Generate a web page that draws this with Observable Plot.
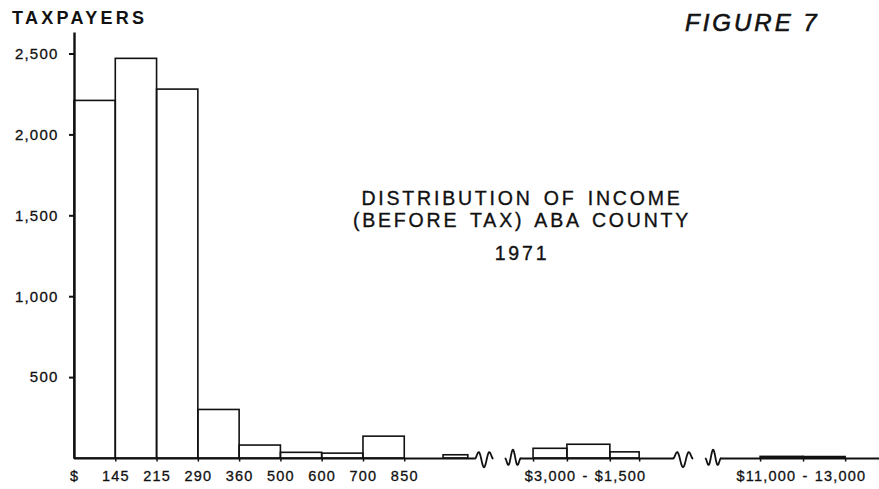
<!DOCTYPE html>
<html>
<head>
<meta charset="utf-8">
<script src="https://cdn.jsdelivr.net/npm/d3@7"></script>
<script src="https://cdn.jsdelivr.net/npm/@observablehq/plot@0.6"></script>
<style>
  html, body { margin: 0; padding: 0; background: #fff; }
  #wrap { position: relative; width: 879px; height: 489px; overflow: hidden; font-family: "Liberation Sans", Arial, Helvetica, sans-serif; color: #111; }
  #wrap svg { position: absolute; left: 0; top: 0; }
  #wrap svg text { letter-spacing: 1.2px; word-spacing: 1px; stroke: #111; stroke-width: 0.3px; }
  .lbl { position: absolute; white-space: nowrap; line-height: 1; -webkit-text-stroke: 0.35px #111; }
  #ytitle { left: 12px; top: 9px; font-size: 18px; font-weight: bold; letter-spacing: 3.3px; -webkit-text-stroke: 0; }
  #fig { left: 685px; top: 11px; font-size: 24px; font-style: italic; letter-spacing: 3px; -webkit-text-stroke: 0.6px #111; }
  .title { left: 522px; transform: translateX(-50%); font-size: 19.5px; letter-spacing: 2.8px; word-spacing: 3px; }
</style>
</head>
<body>
<div id="wrap">
  <div class="lbl" id="ytitle">TAXPAYERS</div>
  <div class="lbl" id="fig">FIGURE 7</div>
  <div class="lbl title" style="top:189px">DISTRIBUTION OF INCOME</div>
  <div class="lbl title" style="top:211px">(BEFORE TAX) ABA COUNTY</div>
  <div class="lbl title" style="top:244px">1971</div>
</div>
<script>
// Income brackets (position along the broken x axis, in bracket slots) and taxpayer counts
const bracketName = ["$0-145","145-215","215-290","290-360","360-500","500-600","600-700","700-850",
                     "850-1,000","$1,000-a","$1,000-b","$1,000-c","$11,000-a","$11,000-b"];
const slotStart  = [0, 1, 2, 3, 4, 5, 6, 7, 8.94, 11.12, 11.94, 12.98, 16.62, 17.66];
const slotEnd    = [1, 2, 3, 4, 5, 6, 7, 8, 9.54, 11.94, 12.98, 13.69, 17.66, 18.68];
const taxpayers  = [2210, 2470, 2280, 300, 80, 35, 30, 135, 20, 60, 85, 38, 10, 9];

// x tick labels
const xTickLabels = ["$", "145", "215", "290", "360", "500", "600", "700", "850", "$3,000 - $1,500", "$11,000 - 13,000"];
const xTickSlots  = [0, 1, 2, 3, 4, 5, 6, 7, 8, 12.38, 17.61];
const edgeTicks   = [1, 2, 3, 4, 5, 6, 7, 8, 11.12, 11.94, 12.98, 13.69, 16.62, 17.66, 18.68];

// y ticks
const yTicks = [500, 1000, 1500, 2000, 2500];

// axis breaks (start, end) and continuous axis segments
const breakStart = [9.71, 10.44, 14.51, 15.29];
const breakEnd   = [10.13, 10.80, 14.97, 15.65];
const segStart = [0, 10.80, 15.65];
const segEnd   = [9.71, 14.51, 19.5];

const bars = bracketName.map((name, i) => ({name, x1: slotStart[i], x2: slotEnd[i], y: taxpayers[i]}));
const segs = segStart.map((s, i) => ({x1: s, x2: segEnd[i]}));
const ticksX = xTickLabels.map((t, i) => ({t, x: xTickSlots[i]}));

// squiggle (axis break) glyphs
const squig = [];
breakStart.forEach((a, k) => {
  const b = breakEnd[k];
  const n = 30;
  for (let j = 0; j <= n; j++) {
    const t = j / n;
    const env = Math.pow(Math.sin(Math.PI * t), 0.5);
    squig.push({k, x: a + (b - a) * t, y: 55 * env * Math.sin(3 * Math.PI * t + (k % 2 ? Math.PI : 0))});
  }
});

const chart = Plot.plot({
  width: 879,
  height: 489,
  marginLeft: 74,
  marginRight: 0,
  marginTop: 53.5,
  marginBottom: 31,
  x: {domain: [0, 19.5], axis: null},
  y: {domain: [0, 2500], axis: null},
  style: {fontFamily: "Liberation Sans, Arial, Helvetica, sans-serif", fontSize: "14.5px", color: "#111", background: "transparent", overflow: "visible"},
  marks: [
    Plot.rectY(bars, {x1: "x1", x2: "x2", y: "y", fill: "none", stroke: "#111", strokeWidth: 1.6}),
    Plot.ruleY(segs, {y: 0, x1: "x1", x2: "x2", stroke: "#111", strokeWidth: 2.2}),
    Plot.line(squig, {x: "x", y: "y", z: "k", stroke: "#111", strokeWidth: 1.8, curve: "basis"}),
    Plot.ruleX(edgeTicks, {x: d => d, y1: 0, y2: -22, stroke: "#111", strokeWidth: 1.5}),
    Plot.ruleX([0], {y1: 0, y2: 2630, stroke: "#111", strokeWidth: 2.4}),
    Plot.axisY({ticks: yTicks, tickFormat: d3.format(","), label: null, tickSize: 5, tickPadding: 11, strokeWidth: 2, fontSize: 15}),
    Plot.text(ticksX, {x: "x", y: 0, text: "t", dy: 18, fontSize: 14.5, fill: "#111"})
  ]
});
document.getElementById("wrap").prepend(chart);
</script>
</body>
</html>
